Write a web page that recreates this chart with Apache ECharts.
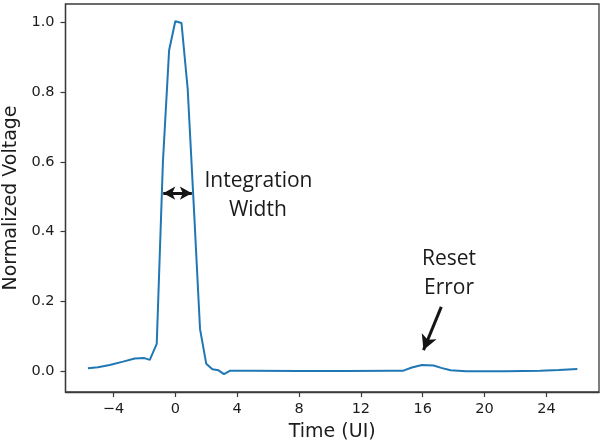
<!DOCTYPE html>
<html>
<head>
<meta charset="utf-8">
<script src="https://cdn.jsdelivr.net/npm/echarts@6/dist/echarts.min.js"></script>
<style>
html,body{margin:0;padding:0;background:#fff;}
#chart{width:600px;height:445px;}
</style>
</head>
<body>
<div id="chart"></div>
<script>
// Data
var times = [-5.65, -5.0, -4.24, -3.38, -2.62, -2.0, -1.65, -1.2, -0.8, -0.4, 0.0, 0.4, 0.8, 1.2, 1.6, 2.0, 2.4, 2.8, 3.15, 3.55, 5, 8, 11, 14, 14.75, 15.3, 15.95, 16.7, 17.2, 17.8, 18.8, 20, 21.4, 22.5, 23.6, 24.8, 26.0];
var volts = [0.008, 0.011, 0.017, 0.027, 0.036, 0.037, 0.032, 0.078, 0.60, 0.92, 1.003, 0.998, 0.81, 0.47, 0.12, 0.021, 0.005, 0.002, -0.009, 0.001, 0.001, 0.0, 0.0, 0.001, 0.001, 0.010, 0.017, 0.016, 0.009, 0.002, -0.001, -0.001, -0.001, 0.0, 0.001, 0.003, 0.006];
var xTicks = [-4, 0, 4, 8, 12, 16, 20, 24];
var yTicks = [0.0, 0.2, 0.4, 0.6, 0.8, 1.0];
var xTitle = 'Time (UI)';
var yTitle = 'Normalized Voltage';
var note1 = ['Integration', 'Width'];
var note2 = ['Reset', 'Error'];

var seriesData = times.map(function (t, i) { return [t, volts[i]]; });
var axisColor = '#3a3a3a';
var tickFont = { fontFamily: 'DejaVu Sans', fontSize: 14.5, color: '#1c1c1c' };

var chart = echarts.init(document.getElementById('chart'), null, { renderer: 'canvas' });
var arrowStyle = { color: '#151515', width: 3, type: 'solid' };

chart.setOption({
  animation: false,
  grid: { left: 65.5, right: 1, top: 4, bottom: 53, containLabel: false, outerBoundsMode: 'none', show: true, borderColor: axisColor, borderWidth: 1.3, backgroundColor: 'transparent' },
  xAxis: {
    type: 'value', min: -7.1, max: 27.4,
    name: xTitle, nameLocation: 'middle', nameGap: 31,
    nameTextStyle: { fontFamily: 'DejaVu Sans', fontSize: 19, color: '#1c1c1c' },
    axisLine: { show: true, onZero: false, lineStyle: { color: axisColor, width: 1.3 } },
    axisTick: { show: true, inside: false, length: 5, customValues: xTicks, lineStyle: { color: axisColor, width: 1.2 } },
    axisLabel: Object.assign({ margin: 10, customValues: xTicks, formatter: function (v) { return String(v).replace('-', '\u2212'); } }, tickFont),
    splitLine: { show: false }
  },
  yAxis: {
    type: 'value', min: -0.0602, max: 1.0525,
    name: yTitle, nameLocation: 'middle', nameGap: 40,
    nameTextStyle: { fontFamily: 'DejaVu Sans', fontSize: 19, color: '#1c1c1c' },
    axisLine: { show: true, onZero: false, lineStyle: { color: axisColor, width: 1.3 } },
    axisTick: { show: true, inside: false, length: 5, customValues: yTicks, lineStyle: { color: axisColor, width: 1.2 } },
    axisLabel: Object.assign({ margin: 11, customValues: yTicks, formatter: function (v) { return v.toFixed(1); } }, tickFont),
    splitLine: { show: false }
  },
  series: [{
    type: 'line',
    data: seriesData,
    symbol: 'none',
    lineStyle: { color: '#1f77b4', width: 2 },
    markLine: {
      silent: true,
      animation: false,
      label: { show: false },
      lineStyle: arrowStyle,
      data: [
        [
          { coord: [-0.78, 0.51], symbol: 'arrow', symbolSize: [10, 12] },
          { coord: [1.07, 0.51], symbol: 'arrow', symbolSize: [10, 12] }
        ],
        [
          { coord: [17.2, 0.184], symbol: 'none' },
          { coord: [16.05, 0.06], symbol: 'arrow', symbolSize: [12, 15] }
        ]
      ]
    }
  }]
});

function addNotes() {
  var items = [];
  function txt(str, t, v) {
    var p = chart.convertToPixel({ gridIndex: 0 }, [t, v]);
    items.push({
      type: 'text', x: p[0], y: p[1],
      style: { text: str, fontFamily: 'Open Sans', fontSize: 21, fill: '#1a1a1a', textAlign: 'center', textVerticalAlign: 'middle' }
    });
  }
  txt(note1[0], 5.38, 0.546);
  txt(note1[1], 5.34, 0.462);
  txt(note2[0], 17.7, 0.32);
  txt(note2[1], 17.7, 0.237);
  chart.setOption({ graphic: items });
}
addNotes();
</script>
</body>
</html>
